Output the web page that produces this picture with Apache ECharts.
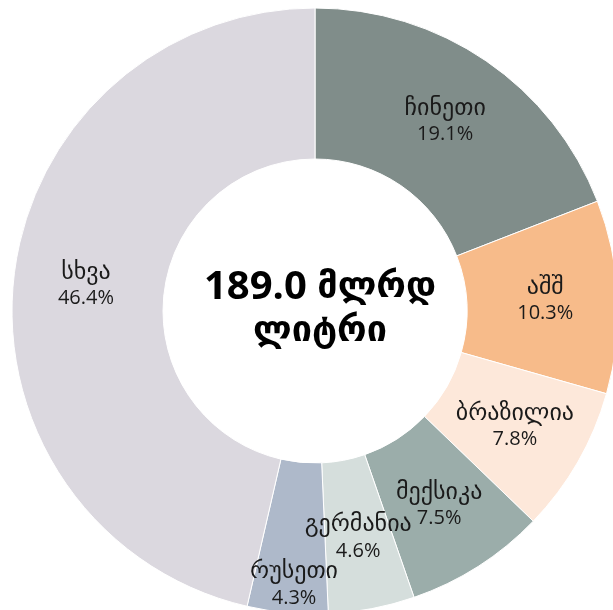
<!DOCTYPE html>
<html>
<head>
<meta charset="utf-8">
<script src="https://cdn.jsdelivr.net/npm/echarts@6/dist/echarts.min.js"></script>
<style>
  html, body { margin: 0; padding: 0; background: #fff; }
  #chart { width: 613px; height: 610px; }
</style>
</head>
<body>
<div id="chart"></div>
<script>
// data
var names = ['ჩინეთი', 'აშშ', 'ბრაზილია', 'მექსიკა', 'გერმანია', 'რუსეთი', 'სხვა'];
var shares = [19.1, 10.3, 7.8, 7.5, 4.6, 4.3, 46.4];
var colors = ['#808d8a', '#f7bb8a', '#fde8da', '#9badaa', '#d5dedc', '#aeb9ca', '#dbd8df'];
var totalNum = '189.0';
var totalUnit = 'მლრდ';
var totalUnit2 = 'ლიტრი';

var chart = echarts.init(document.getElementById('chart'));

var data = names.map(function(n, i) {
	var item = { name: n, value: shares[i], itemStyle: { color: colors[i] } };
	// russia label sits lower, below the ring midline
	if (i === 5) {
		item.label = { offset: [0, 44] };
	}
	return item;
});

chart.setOption({
	animation: false,
	graphic: [{
		type: 'text',
		x: 320,
		y: 266,
		style: {
			text: '{d|' + totalNum + ' }{g|' + totalUnit + '}\n{g|' + totalUnit2 + '}',
			align: 'center',
			textAlign: 'center',
			fill: '#000',
			rich: {
				d: { fontFamily: '"Open Sans", sans-serif', fontWeight: 'bold', fontSize: 40, lineHeight: 44, fill: '#000' },
				g: { fontFamily: '"DejaVu Sans", sans-serif', fontWeight: 'bold', fontSize: 36, lineHeight: 44, fill: '#000' }
			}
		}
	}],
	series: [{
		type: 'pie',
		center: [315, 311],
		radius: [152, 303],
		startAngle: 90,
		clockwise: true,
		avoidLabelOverlap: false,
		itemStyle: {
			borderColor: '#fff',
			borderWidth: 1
		},
		label: {
			show: true,
			position: 'inside',
			formatter: function(p) {
				return '{n|' + p.name + '}\n{v|' + p.value.toFixed(1) + '%}';
			},
			rich: {
				n: { fontFamily: '"DejaVu Sans", sans-serif', fontSize: 24, lineHeight: 27, color: '#1a1a1a' },
				v: { fontFamily: '"Open Sans", sans-serif', fontSize: 20, lineHeight: 25, color: '#1a1a1a' }
			}
		},
		labelLayout: { hideOverlap: false },
		labelLine: { show: false },
		emphasis: { disabled: true },
		data: data
	}]
});
</script>
</body>
</html>
